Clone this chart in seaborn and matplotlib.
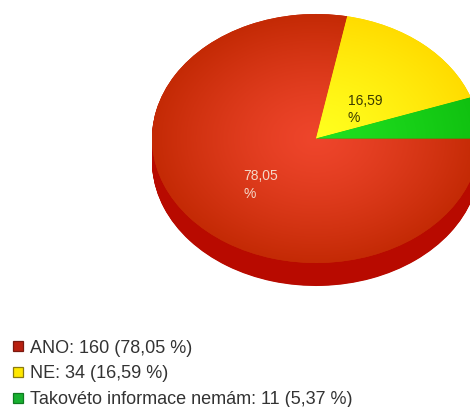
import matplotlib
matplotlib.use("Agg")
import matplotlib.pyplot as plt
from matplotlib.colors import LinearSegmentedColormap
from matplotlib.lines import Line2D
import numpy as np
import seaborn as sns

# Data
categories = ["ANO", "NE", "Takovéto informace nemám"]
counts = [160, 34, 11]

# Colours: gradient centre, gradient edge, side of the pie, legend box edge
centre_colors = ["#ee452b", "#ffff1e", "#1fe01f"]
edge_colors = ["#c42a05", "#ffdc00", "#10c010"]
side_colors = ["#b80a00", "#c8a800", "#0a900a"]
box_edges = ["#7a1a10", "#8a7a10", "#0f7a20"]

sns.set_theme(style="white")
plt.rcParams["font.family"] = ["Liberation Sans", "DejaVu Sans"]

W, H = 470, 407
CX, CY = 316, 138.5   # pie centre, px from top left
RX, RY = 164, 124.5   # pie radii, px
DEPTH = 23


def pct_text(value):
    return f"{value / sum(counts) * 100:.2f}".replace(".", ",")


fig = plt.figure(figsize=(W / 100, H / 100), dpi=100)
ax = fig.add_axes([0, 0, 1, 1])

# Side of the pie: the same pie stacked downwards in a darker colour
no_edge = {"edgecolor": "none", "linewidth": 0}
for off in np.arange(DEPTH, 0, -0.5):
    ax.pie(counts, colors=side_colors, startangle=0, counterclock=False,
           center=(0, -off / RY), radius=1, wedgeprops=no_edge)

# Top of the pie, with a radial gradient clipped to each wedge
wedges, _ = ax.pie(counts, colors=edge_colors, startangle=0, counterclock=False,
                   center=(0, 0), radius=1, wedgeprops=no_edge)
xx, yy = np.meshgrid(np.linspace(-1, 1, 300), np.linspace(-1, 1, 300))
rr = np.clip(np.hypot(xx, yy), 0, 1) ** 1.3
for wedge, c0, c1 in zip(wedges, centre_colors, edge_colors):
    cmap = LinearSegmentedColormap.from_list("grad", [c0, c1])
    im = ax.imshow(rr, cmap=cmap, vmin=0, vmax=1, extent=(-1, 1, -1, 1),
                   aspect="auto", origin="lower", zorder=3)
    im.set_clip_path(wedge)

ax.set_aspect("auto")
ax.set_xlim(-CX / RX, (W - CX) / RX)
ax.set_ylim((CY - H) / RY, CY / RY)
ax.axis("off")

# Value labels inside the pie
fig.text(243 / W, 1 - 169 / H, pct_text(counts[0]) + "\n%", color="#f4d8c8",
         fontsize=10, va="top", ha="left", linespacing=1.4, zorder=5)
fig.text(348 / W, 1 - 94 / H, pct_text(counts[1]) + "\n%", color="#3a3a00",
         fontsize=10, va="top", ha="left", linespacing=1.25, zorder=5)

# Legend
handles = [Line2D([], [], linestyle="none", marker="s", markersize=7,
                  markerfacecolor=c, markeredgecolor=e, markeredgewidth=0.9)
           for c, e in zip(["#b82010", "#ffe800", "#18b030"], box_edges)]
labels = [f"{name}: {n} ({pct_text(n)} %)" for name, n in zip(categories, counts)]
fig.legend(handles, labels, loc="lower left", bbox_to_anchor=(9 / W, -1 / H),
           frameon=False, fontsize=13, labelcolor="#333333", handletextpad=0.15,
           handlelength=1.0, labelspacing=0.48, borderaxespad=0, borderpad=0)

fig.savefig("out.png", dpi=100)
plt.close(fig)
